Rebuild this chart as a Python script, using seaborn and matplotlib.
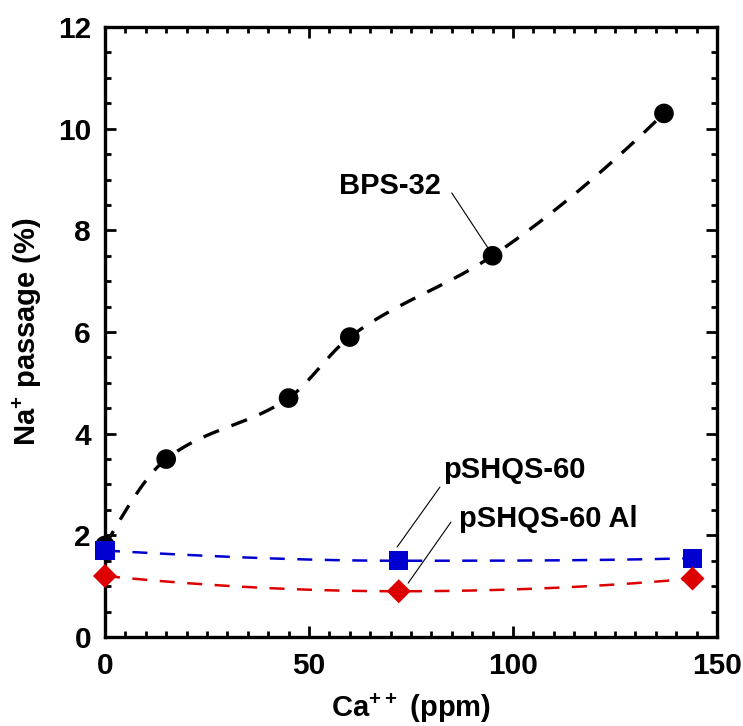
import numpy as np
import pandas as pd
import matplotlib
matplotlib.use("Agg")
import matplotlib.pyplot as plt
from matplotlib.ticker import MultipleLocator
import seaborn as sns

# Na+ passage vs Ca++ concentration for three membranes
bps_ca = [0, 15, 45, 60, 95, 137]
bps_na = [1.8, 3.5, 4.7, 5.9, 7.5, 10.3]

shqs_ca = [0, 72, 144]
shqs_na = [1.7, 1.5, 1.55]

shqs_al_ca = [0, 72, 144]
shqs_al_na = [1.2, 0.9, 1.15]


def pchip(x, y, n=300):
    """Shape-preserving piecewise cubic through the measured points."""
    x = np.asarray(x, float)
    y = np.asarray(y, float)
    h = np.diff(x)
    delta = np.diff(y) / h
    k = len(x)
    d = np.zeros(k)
    for i in range(1, k - 1):
        if delta[i - 1] * delta[i] > 0:
            w1 = 2 * h[i] + h[i - 1]
            w2 = h[i] + 2 * h[i - 1]
            d[i] = (w1 + w2) / (w1 / delta[i - 1] + w2 / delta[i])

    def end(h0, h1, d0, d1):
        v = ((2 * h0 + h1) * d0 - h0 * d1) / (h0 + h1)
        if np.sign(v) != np.sign(d0):
            v = 0.0
        elif np.sign(d0) != np.sign(d1) and abs(v) > 3 * abs(d0):
            v = 3 * d0
        return v

    d[0] = end(h[0], h[1], delta[0], delta[1])
    d[-1] = end(h[-1], h[-2], delta[-1], delta[-2])

    xs = np.linspace(x[0], x[-1], n)
    idx = np.clip(np.searchsorted(x, xs) - 1, 0, k - 2)
    t = (xs - x[idx]) / h[idx]
    h00 = 2 * t**3 - 3 * t**2 + 1
    h10 = t**3 - 2 * t**2 + t
    h01 = -2 * t**3 + 3 * t**2
    h11 = t**3 - t**2
    ys = (h00 * y[idx] + h10 * h[idx] * d[idx]
          + h01 * y[idx + 1] + h11 * h[idx] * d[idx + 1])
    return pd.DataFrame({"ca": xs, "na": ys})


sns.set_theme(style="ticks")
plt.rcParams["font.family"] = ["Liberation Sans", "DejaVu Sans"]
plt.rcParams["font.weight"] = "bold"
plt.rcParams["mathtext.fontset"] = "custom"
plt.rcParams["mathtext.rm"] = "Liberation Sans:bold"
plt.rcParams["mathtext.bf"] = "Liberation Sans:bold"
plt.rcParams["mathtext.default"] = "rm"
for key in ("text.color", "axes.labelcolor", "xtick.color", "ytick.color",
            "axes.edgecolor"):
    plt.rcParams[key] = "black"

fig = plt.figure(figsize=(7.43, 7.26), dpi=100)
ax = fig.add_axes([0.1413, 0.1226, 0.8237, 0.8402])

BLUE = "#0000d0"
RED = "#dd0000"

series = [
    (bps_ca, bps_na, "black", "o", 2.4, (5.0, 4.0), 200),
    (shqs_ca, shqs_na, BLUE, "s", 1.8, (6.0, 5.0), 190),
    (shqs_al_ca, shqs_al_na, RED, "D", 1.8, (6.0, 5.0), 150),
]

for i, (xc, yc, col, mk, lw, dash, s) in enumerate(series):
    curve = pchip(xc, yc)
    sns.lineplot(data=curve, x="ca", y="na", color=col, lw=lw, ax=ax,
                 sort=False, estimator=None, zorder=3 + i)
    ax.lines[-1].set_dashes(dash)
    pts = pd.DataFrame({"ca": xc, "na": yc})
    sns.scatterplot(data=pts, x="ca", y="na", color=col, marker=mk, s=s,
                    edgecolor="none", linewidth=0, ax=ax, zorder=6 + i,
                    clip_on=False)

ax.set_xlim(0, 150)
ax.set_ylim(0, 12)
ax.xaxis.set_major_locator(MultipleLocator(50))
ax.xaxis.set_minor_locator(MultipleLocator(5))
ax.yaxis.set_major_locator(MultipleLocator(2))
ax.yaxis.set_minor_locator(MultipleLocator(0.5))

for sp in ax.spines.values():
    sp.set_visible(True)
    sp.set_linewidth(2.4)
    sp.set_color("black")

ax.tick_params(which="both", direction="in", top=True, right=True,
               color="black", width=2.0, labelcolor="black")
ax.tick_params(which="major", length=8, labelsize=21.5)
ax.tick_params(axis="x", which="major", pad=11)
ax.tick_params(axis="y", which="major", pad=10)
ax.tick_params(which="minor", length=4.5)
for lab in ax.get_xticklabels() + ax.get_yticklabels():
    lab.set_fontweight("bold")

ax.set_xlabel(r"Ca$^{++}$ (ppm)", fontsize=21, fontweight="bold", labelpad=8)
ax.set_ylabel(r"Na$^{+}$ passage (%)", fontsize=21, fontweight="bold",
              labelpad=10)

# Series labels with thin leader lines to one point of each series
lbl = dict(fontsize=21, fontweight="bold", ha="left", va="baseline")
lead = dict(arrowstyle="-", color="black", lw=0.8, shrinkA=0, shrinkB=0)
ax.text(57.4, 8.715, "BPS-32", **lbl)
ax.annotate("", xy=(93.9, 7.65), xytext=(85.0, 8.735), arrowprops=lead)
ax.text(82.8, 3.128, "pSHQS-60", **lbl)
ax.annotate("", xy=(71.6, 1.77), xytext=(82.1, 2.95), arrowprops=lead)
ax.text(86.8, 2.164, "pSHQS-60 Al", **lbl)
ax.annotate("", xy=(74.3, 1.06), xytext=(84.8, 2.26), arrowprops=lead)

fig.savefig("out.png", dpi=100)
